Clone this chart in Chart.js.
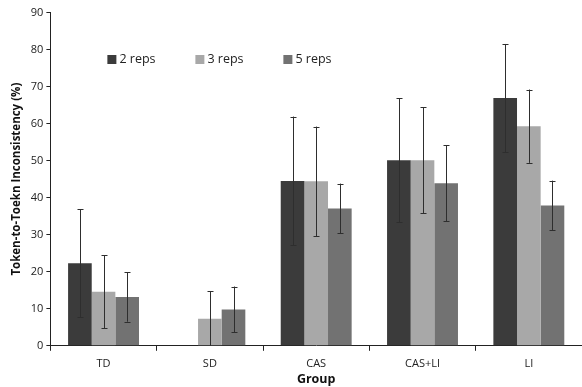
<!DOCTYPE html>
<html lang="en">
<head>
    <meta charset="UTF-8">
    <title>Token-to-Token Inconsistency</title>
    <style>
        body {
            margin: 0;
            padding: 0;
            background: #fff;
        }

        .chart-box {
            width: 582px;
            height: 387px;
            position: relative;
        }
    </style>
</head>
<body>
    <div class="chart-box">
        <canvas id="repsChart"></canvas>
    </div>

<script src="https://cdn.jsdelivr.net/npm/chart.js"></script>
<script>
    // Data
    const groups = ['TD', 'SD', 'CAS', 'CAS+LI', 'LI'];
    const seriesNames = ['2 reps', '3 reps', '5 reps'];
    const reps2 = [22.3, null, 44.5, 50.1, 66.9];
    const reps3 = [14.6, 7.3, 44.4, 50.1, 59.3];
    const reps5 = [13.2, 9.8, 37.1, 43.9, 37.9];
    const err2 = [14.6, null, 17.4, 16.7, 14.6];
    const err3 = [9.9, 7.5, 14.8, 14.3, 9.9];
    const err5 = [6.7, 6.2, 6.7, 10.3, 6.7];
    const yTicks = [0, 10, 20, 30, 40, 50, 60, 70, 80, 90];

    const colors = ['#3b3b3b', '#a8a8a8', '#727272'];
    const fontFamily = "'Open Sans', 'DejaVu Sans', sans-serif";

    // Draw error bars (whiskers with caps) on top of each bar
    const errorBars = {
        id: 'errorBars',
        afterDatasetsDraw(chart) {
            const ctx = chart.ctx;
            const yScale = chart.scales.y;
            const area = chart.chartArea;
            ctx.save();
            ctx.strokeStyle = '#2e2e2e';
            ctx.lineWidth = 1;
            chart.data.datasets.forEach((ds, i) => {
                const meta = chart.getDatasetMeta(i);
                meta.data.forEach((bar, j) => {
                    const v = ds.data[j];
                    const e = ds.errors[j];
                    if (v == null || e == null) return;
                    const x = Math.round(bar.x) + 0.5;
                    const top = yScale.getPixelForValue(v + e);
                    const bot = Math.min(yScale.getPixelForValue(v - e), area.bottom);
                    ctx.beginPath();
                    ctx.moveTo(x, top);
                    ctx.lineTo(x, bot);
                    ctx.moveTo(x - 3, Math.round(top) + 0.5);
                    ctx.lineTo(x + 3, Math.round(top) + 0.5);
                    if (bot < area.bottom) {
                        ctx.moveTo(x - 3, Math.round(bot) + 0.5);
                        ctx.lineTo(x + 3, Math.round(bot) + 0.5);
                    }
                    ctx.stroke();
                });
            });
            ctx.restore();
        }
    };

    // Legend sits inside the plot area, in one row
    const insideLegend = {
        id: 'insideLegend',
        afterDraw(chart) {
            const ctx = chart.ctx;
            const area = chart.chartArea;
            const y = area.top + 47;
            ctx.save();
            ctx.font = '12.5px ' + fontFamily;
            ctx.textBaseline = 'middle';
            chart.data.datasets.forEach((ds, i) => {
                const x = area.left + 57 + i * 88;
                ctx.fillStyle = ds.backgroundColor;
                ctx.fillRect(x, y - 4.5, 9, 9);
                ctx.fillStyle = '#222';
                ctx.fillText(ds.label, x + 12, y);
            });
            ctx.restore();
        }
    };

    const ctx = document.getElementById('repsChart').getContext('2d');
    const repsChart = new Chart(ctx, {
        type: 'bar',
        data: {
            labels: groups,
            datasets: [
                { label: seriesNames[0], data: reps2, errors: err2, backgroundColor: colors[0] },
                { label: seriesNames[1], data: reps3, errors: err3, backgroundColor: colors[1] },
                { label: seriesNames[2], data: reps5, errors: err5, backgroundColor: colors[2] }
            ]
        },
        options: {
            responsive: true,
            maintainAspectRatio: false,
            animation: false,
            layout: {
                padding: { top: 12.5, right: 0, left: 10, bottom: 0 }
            },
            datasets: {
                bar: {
                    categoryPercentage: 0.667,
                    barPercentage: 1.0,
                    borderWidth: 0
                }
            },
            plugins: {
                legend: { display: false },
                tooltip: { enabled: false }
            },
            scales: {
                x: {
                    grid: {
                        display: true,
                        drawOnChartArea: false,
                        drawTicks: true,
                        tickLength: 5,
                        color: '#222'
                    },
                    border: { color: '#222', width: 1 },
                    ticks: {
                        color: '#222',
                        font: { family: fontFamily, size: 11 },
                        padding: 6
                    },
                    title: {
                        display: true,
                        text: 'Group',
                        color: '#111',
                        font: { family: fontFamily, size: 12.5, weight: 'bold' },
                        padding: { top: -4, bottom: 0 }
                    }
                },
                y: {
                    min: 0,
                    max: 90,
                    afterBuildTicks(scale) {
                        scale.ticks = yTicks.map(v => ({ value: v }));
                    },
                    grid: {
                        display: true,
                        drawOnChartArea: false,
                        drawTicks: true,
                        tickLength: 4,
                        color: '#222'
                    },
                    border: { color: '#222', width: 1 },
                    ticks: {
                        color: '#222',
                        font: { family: fontFamily, size: 11 },
                        padding: 3
                    },
                    title: {
                        display: true,
                        text: 'Token-to-Toekn Inconsistency (%)',
                        color: '#111',
                        font: { family: fontFamily, size: 11.5, weight: 'bold' },
                        padding: { top: 0, bottom: 4 }
                    }
                }
            }
        },
        plugins: [errorBars, insideLegend]
    });
</script>
</body>
</html>
